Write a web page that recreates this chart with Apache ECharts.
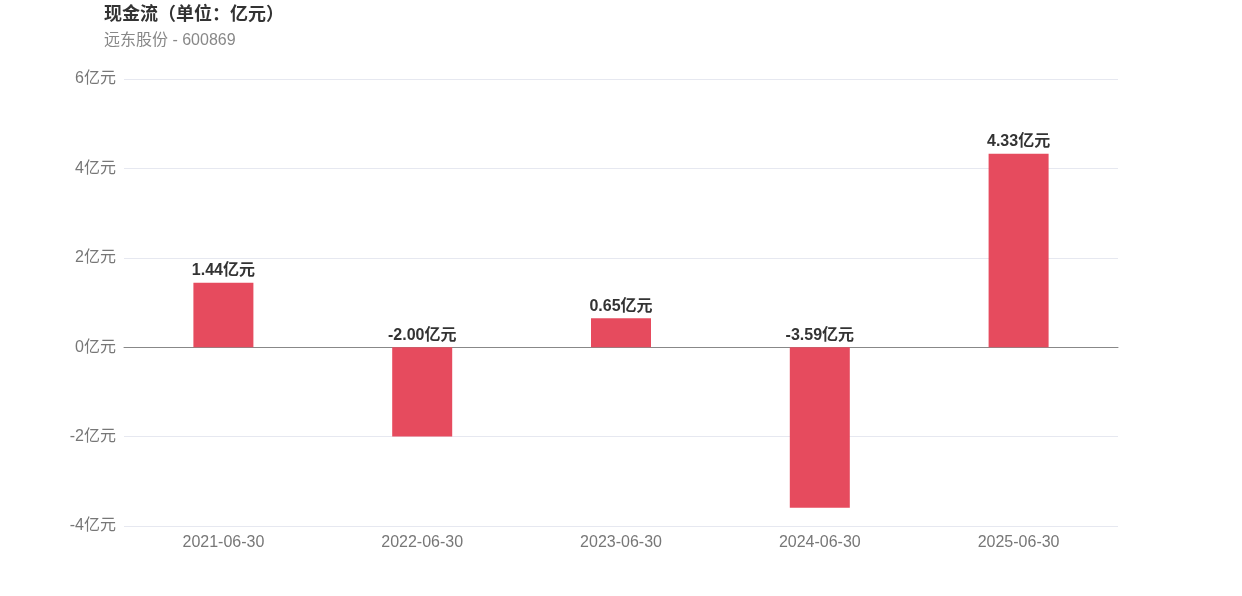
<!DOCTYPE html>
<html><head><meta charset="utf-8">
<script src="https://cdn.jsdelivr.net/npm/echarts@6/dist/echarts.min.js"></script>
<style>html,body{margin:0;padding:0;background:#fff}#c{width:1242px;height:596px}</style>
</head><body><div id="c"></div>
<script>
var categories = ['2021-06-30','2022-06-30','2023-06-30','2024-06-30','2025-06-30'];
var values = [1.44, -2.00, 0.65, -3.59, 4.33];
var yTicks = [-4, -2, 0, 2, 4, 6];
var titleText = '现金流（单位：亿元）';
var subText = '远东股份 - 600869';
var font = '"Liberation Sans", "Noto Sans CJK SC", sans-serif';
var chart = echarts.init(document.getElementById('c'));
chart.setOption({
  animation: false,
  backgroundColor: '#fff',
  title: {
    text: titleText, subtext: subText, left: 99, top: 1, itemGap: 9,
    textStyle: {fontSize: 18, fontWeight: 'bold', color: '#333', fontFamily: font},
    subtextStyle: {fontSize: 16, color: '#888', fontFamily: font}
  },
  grid: {left: 124, right: 124, top: 79, bottom: 70, containLabel: false},
  xAxis: {
    type: 'category', data: categories,
    axisLine: {onZero: true, lineStyle: {color: '#888', width: 1}},
    axisTick: {show: false},
    axisLabel: {color: '#777', fontSize: 16, fontFamily: font, margin: 9},
    position: 'bottom'
  },
  yAxis: {
    type: 'value', min: yTicks[0], max: yTicks[yTicks.length-1], interval: 2,
    axisLine: {show: false}, axisTick: {show: false},
    axisLabel: {color: '#777', fontSize: 16, fontFamily: font, margin: 8, formatter: '{value}亿元'},
    splitLine: {lineStyle: {color: '#e6e8f0'}}
  },
  series: [{
    type: 'bar', data: values, barWidth: 60,
    itemStyle: {color: '#e64b5e'},
    label: {show: true, position: 'top', distance: 4, color: '#333', fontWeight: 'bold', fontSize: 16, fontFamily: font,
      formatter: function(p){return p.value.toFixed(2) + '亿元';}}
  }]
});
</script></body></html>
